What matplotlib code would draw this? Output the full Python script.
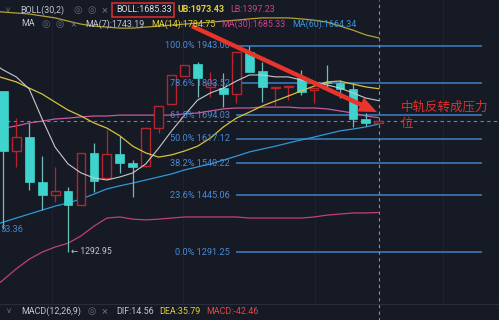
import matplotlib
matplotlib.use('Agg')
import matplotlib.pyplot as plt
from matplotlib.patches import Rectangle
from matplotlib.lines import Line2D
import numpy as np

plt.rcParams['font.family'] = ['Roboto', 'DejaVu Sans']

# ---------------- data ----------------
opens  = [1778, 1578, 1622, 1484, 1446, 1458, 1418, 1571, 1496, 1568,
          1541, 1532, 1651, 1731, 1830, 1874, 1791, 1787, 1766, 1919,
          1848, 1787, 1791, 1823, 1780, 1809, 1806, 1784, 1681, 1668]
highs  = [1778, 1684, 1668, 1562, 1529, 1470, 1572, 1603, 1645, 1626,
          1550, 1654, 1725, 1834, 1870, 1881, 1845, 1841, 1919, 1943,
          1881, 1792, 1796, 1852, 1787, 1870, 1816, 1805, 1701, 1675]
lows   = [1353.36, 1529, 1461, 1404, 1426, 1292.95, 1418, 1455, 1496, 1511,
          1441, 1529, 1635, 1731, 1830, 1756, 1756, 1721, 1735, 1845,
          1738, 1723, 1745, 1763, 1735, 1791, 1752, 1655, 1658, 1668]
closes = [1578, 1622, 1484, 1446, 1458, 1418, 1572, 1487, 1568, 1541,
          1529, 1651, 1725, 1834, 1870, 1823, 1805, 1766, 1919, 1845,
          1791, 1792, 1796, 1773, 1787, 1804, 1784, 1681, 1668, 1675]

# indicator lines, candle index -1 .. 29
ma7  = [1882, 1852, 1827, 1784, 1681, 1590, 1538, 1511, 1496, 1490, 1499,
        1511, 1538, 1587, 1642, 1694, 1745, 1770, 1787, 1812, 1834,
        1834, 1827, 1827, 1816, 1809, 1798, 1787, 1770, 1752, 1743.19]
ma14 = [1837, 1823, 1809, 1787, 1766, 1738, 1711, 1691, 1668, 1651, 1626,
        1593, 1572, 1559, 1566, 1578, 1593, 1619, 1655, 1684, 1704,
        1725, 1742, 1759, 1777, 1794, 1809, 1812, 1801, 1791, 1784.75]
ma30 = [1645, 1651, 1658, 1668, 1674, 1681, 1684, 1688, 1691, 1691, 1694,
        1694, 1694, 1694, 1694, 1698, 1701, 1708, 1715, 1718, 1718,
        1721, 1721, 1721, 1718, 1718, 1715, 1708, 1701, 1691, 1685.33]
ma60 = [1360, 1371, 1382, 1393, 1404, 1415, 1424, 1435, 1449, 1464, 1473,
        1481, 1490, 1499, 1508, 1520, 1529, 1538, 1550, 1562, 1575,
        1584, 1593, 1603, 1613, 1622, 1632, 1642, 1648, 1655, 1664.34]
boll_ub = [2081, 2077, 2073, 2069, 2061, 2053, 2040, 2028, 2020, 2016, 2012,
           2012, 2016, 2020, 2024, 2028, 2032, 2036, 2040, 2044, 2049,
           2053, 2053, 2053, 2049, 2044, 2036, 2020, 2004, 1985, 1973.43]
boll_lb = [1199, 1223, 1250, 1274, 1292, 1305, 1315, 1334, 1360, 1382, 1385,
           1379, 1377, 1379, 1382, 1385, 1385, 1385, 1385, 1385, 1382,
           1382, 1382, 1382, 1382, 1385, 1390, 1393, 1396, 1396, 1397.23]

fib_pct   = ['0.0%', '23.6%', '38.2%', '50.0%', '61.8%', '78.6%', '100.0%']
fib_price = [1291.25, 1445.06, 1540.22, 1617.12, 1694.03, 1803.52, 1943.00]

# ---------------- style ----------------
W, H = 499, 320
BG = '#161a25'
UPC = '#b8242e'
DNC = '#3ed3cc'
C_MA7, C_MA14, C_MA30, C_MA60 = '#c9c9cf', '#d8c23a', '#c85aa0', '#2f98d6'
C_UB, C_LB = '#b3a332', '#c23e7e'
C_FIB = '#3b82c4'
GRAY = '#c3c7d1'
ICON = '#646978'
FS = 6.4

fig = plt.figure(figsize=(W / 100, H / 100), dpi=100, facecolor=BG)
ax = fig.add_axes([0, 16 / H, 1, 304 / H])
ax.set_facecolor(BG)
ax.set_yscale('log')
ax.set_ylim(1166, 2127)
ax.set_xlim(-0.255, 38.28)
for s in ax.spines.values():
    s.set_visible(False)
ax.set_xticks([]); ax.set_yticks([])
ax.yaxis.set_minor_locator(matplotlib.ticker.NullLocator())

# faint time grid
for gx in [3.76, 13.9, 24.07, 33.95]:
    ax.axvline(gx, color='#1e2230', lw=0.8, zorder=0)

x_line = np.arange(-1, 30)
ax.plot(x_line, boll_ub, color=C_UB, lw=0.9, zorder=2)
ax.plot(x_line, boll_lb, color=C_LB, lw=0.9, zorder=2)
ax.plot(x_line, ma60, color=C_MA60, lw=0.9, zorder=2)
ax.plot(x_line, ma30, color=C_MA30, lw=0.9, zorder=2)
ax.plot(x_line, ma14, color=C_MA14, lw=0.9, zorder=4)
ax.plot(x_line, ma7, color=C_MA7, lw=0.8, zorder=4)

# fib levels
for pct, p in zip(fib_pct, fib_price):
    ax.hlines(p, 18, 37, color=C_FIB, lw=1.1, zorder=1)
    ax.text(17.5, p, f'{pct} {p:.2f}', color='#4b8ad3', fontsize=6.6,
            ha='right', va='center', zorder=5)

# candles
w = 0.68
for i, (o, h, l, c) in enumerate(zip(opens, highs, lows, closes)):
    if c >= o:
        ax.vlines(i, c, h, color=UPC, lw=0.9, zorder=3)
        ax.vlines(i, l, o, color=UPC, lw=0.9, zorder=3)
        ax.add_patch(Rectangle((i - w / 2, o), w, max(c - o, 1.5), facecolor=BG,
                               edgecolor=UPC, lw=1.0, zorder=3))
    else:
        ax.vlines(i, l, h, color='#6fbdb8', lw=0.9, zorder=3)
        ax.add_patch(Rectangle((i - w / 2, c), w, o - c, facecolor=DNC,
                               edgecolor=DNC, lw=0.5, zorder=3))

# current price & cursor lines
ax.axhline(closes[-1], color='#7d818c', lw=0.8, ls=(0, (3, 3)), zorder=1)
ax.axvline(29, ymin=-0.06, ymax=1, color='#8a8e99', lw=0.8, ls=(0, (3, 3)),
           clip_on=False, zorder=1)

# low labels
ax.text(5.25, lows[5], '\u2190 1292.95', color=GRAY, fontsize=6.2, va='center', ha='left')
ax.text(-0.25, 1350, '53.36', color='#3f88d0', fontsize=6.6, va='center', ha='left')

# red arrow
ax.annotate('', xy=(28.86, 1704), xytext=(14.57, 2020),
            arrowprops=dict(arrowstyle='simple,head_length=1.3,head_width=1.1,tail_width=0.32',
                            color='#e8342a', lw=0, shrinkA=0, shrinkB=0), zorder=6)

cjk = ['Noto Sans CJK SC', 'DejaVu Sans']
def t(xp, yp, s, color, size=FS, **kw):
    fig.text(xp / W, 1 - yp / H, s, color=color, fontsize=size, va='center', ha='left', **kw)

t(401, 107, '中轨反转成压力', '#e0302a', 9, family=cjk)
t(401, 124, '位', '#e0302a', 9, family=cjk)

# legend rows
t(5, 10, '\u2228', ICON, 6)
t(20, 10, 'BOLL(30,2)', GRAY)
t(73, 10, '\u25ce', ICON, 7, family=['DejaVu Sans'])
t(87, 10, '\u25ce', ICON, 7, family=['DejaVu Sans'])
t(102, 10, '\u00d7', ICON, 8)
fig.add_artist(Rectangle((112 / W, 1 - 17 / H), 62 / W, 14 / H, transform=fig.transFigure,
                         fill=False, edgecolor='#e03030', lw=1.1))
t(116, 10, 'BOLL:1685.33', '#dcdfe6')
t(178, 10, 'UB:1973.43', '#e3cf3a', weight='semibold')
t(230, 10, 'LB:1397.23', '#c9458a')

t(21, 24, 'MA', GRAY)
t(42, 24, '\u25ce', ICON, 7, family=['DejaVu Sans'])
t(56, 24, '\u25ce', ICON, 7, family=['DejaVu Sans'])
t(71, 24, '\u00d7', ICON, 8)
t(85, 24, 'MA(7):1743.19', GRAY)
t(151, 24, 'MA(14):1784.75', '#e3cf3a')
t(221, 24, 'MA(30):1685.33', '#c9458a')
t(292, 24, 'MA(60):1664.34', '#3b96dc')

# MACD panel header
fig.add_artist(Line2D([0, 1], [1 - 303.5 / H] * 2, transform=fig.transFigure,
                      color='#2a2e3a', lw=0.8))
t(6, 311, '\u2228', ICON, 6)
t(21, 311, 'MACD(12,26,9)', GRAY)
t(87, 311, '\u25ce', ICON, 7, family=['DejaVu Sans'])
t(102, 311, '\u00d7', ICON, 8)
t(116, 311, 'DIF:14.56', GRAY)
t(159, 311, 'DEA:35.79', '#e3cf3a')
t(206, 311, 'MACD:-42.46', '#e04848')

fig.savefig('out.png', dpi=100, facecolor=BG)
